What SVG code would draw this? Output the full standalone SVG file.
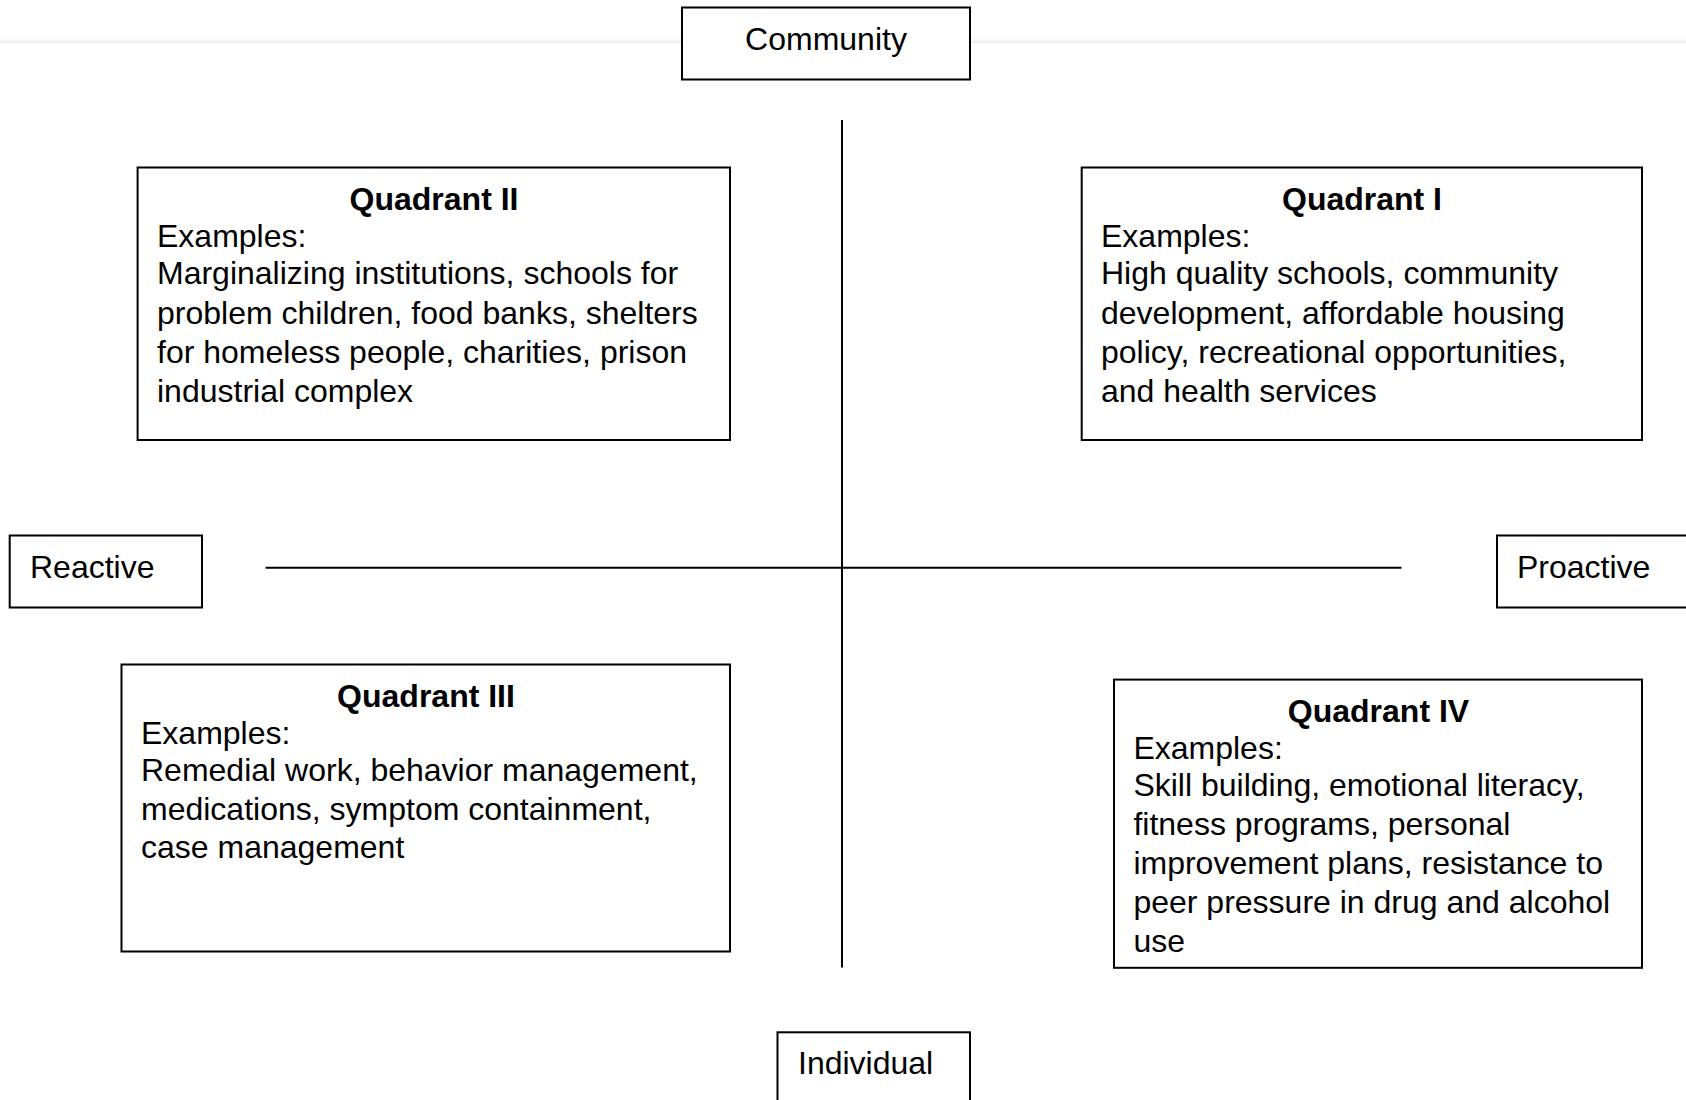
<svg xmlns="http://www.w3.org/2000/svg" width="1686" height="1100" viewBox="0 0 1686 1100">
  <style>
    .box { fill: #ffffff; stroke: #000000; stroke-width: 2; }
    .axis { stroke: #000000; stroke-width: 2; fill: none; }
    text { font-family: "Liberation Sans", Arial, sans-serif; font-size: 32px; fill: #000000; }
    .title { font-weight: bold; text-anchor: middle; }
  </style>

  <rect width="1686" height="1100" fill="#ffffff"/>

  <!-- faint page rule across the top -->
  <rect x="0" y="37" width="1686" height="4" fill="#f9f9f9"/>
  <line x1="0" y1="42" x2="1686" y2="42" stroke="#dddddd" stroke-width="1"/>

  <!-- axes -->
  <g id="connectors">
    <line class="axis" x1="842" y1="120" x2="842" y2="967.5"/>
    <line class="axis" x1="265.6" y1="567.8" x2="1401.5" y2="567.8"/>
  </g>

  <!-- axis labels -->
  <g id="community">
    <rect class="box" x="682" y="7.5" width="288" height="72"/>
    <text x="826" y="49.5" text-anchor="middle">Community</text>
  </g>

  <g id="individual">
    <rect class="box" x="777.5" y="1032.3" width="192.5" height="72"/>
    <text x="798" y="1073.5">Individual</text>
  </g>

  <g id="reactive">
    <rect class="box" x="9.7" y="535.5" width="192.3" height="72"/>
    <text x="30" y="578">Reactive</text>
  </g>

  <g id="proactive">
    <rect class="box" x="1497" y="535.5" width="200" height="72"/>
    <text x="1517" y="578">Proactive</text>
  </g>

  <!-- quadrant boxes -->
  <g id="quadrant-2">
    <rect class="box" x="137.6" y="167.5" width="592.4" height="272.5"/>
    <text class="title" x="434" y="209.5">Quadrant II</text>
    <text x="157" y="247.3">Examples:</text>
    <text x="157" y="284.3">Marginalizing institutions, schools for</text>
    <text x="157" y="323.5">problem children, food banks, shelters</text>
    <text x="157" y="362.7">for homeless people, charities, prison</text>
    <text x="157" y="401.9">industrial complex</text>
  </g>

  <g id="quadrant-1">
    <rect class="box" x="1081.7" y="167.5" width="560.3" height="272.5"/>
    <text class="title" x="1362" y="209.5">Quadrant I</text>
    <text x="1101" y="247.3">Examples:</text>
    <text x="1101" y="284.3">High quality schools, community</text>
    <text x="1101" y="323.5">development, affordable housing</text>
    <text x="1101" y="362.7">policy, recreational opportunities,</text>
    <text x="1101" y="401.9">and health services</text>
  </g>

  <g id="quadrant-3">
    <rect class="box" x="121.5" y="664.5" width="608.5" height="287"/>
    <text class="title" x="426" y="706.5">Quadrant III</text>
    <text x="141" y="744.3">Examples:</text>
    <text x="141" y="780.5">Remedial work, behavior management,</text>
    <text x="141" y="819.7">medications, symptom containment,</text>
    <text x="141" y="858.3">case management</text>
  </g>

  <g id="quadrant-4">
    <rect class="box" x="1114" y="679.6" width="528" height="288.2"/>
    <text class="title" x="1378.5" y="721.6">Quadrant IV</text>
    <text x="1133.4" y="759.4">Examples:</text>
    <text x="1133.4" y="796.2">Skill building, emotional literacy,</text>
    <text x="1133.4" y="835.2">fitness programs, personal</text>
    <text x="1133.4" y="874.2">improvement plans, resistance to</text>
    <text x="1133.4" y="913.2">peer pressure in drug and alcohol</text>
    <text x="1133.4" y="951.6">use</text>
  </g>
</svg>
